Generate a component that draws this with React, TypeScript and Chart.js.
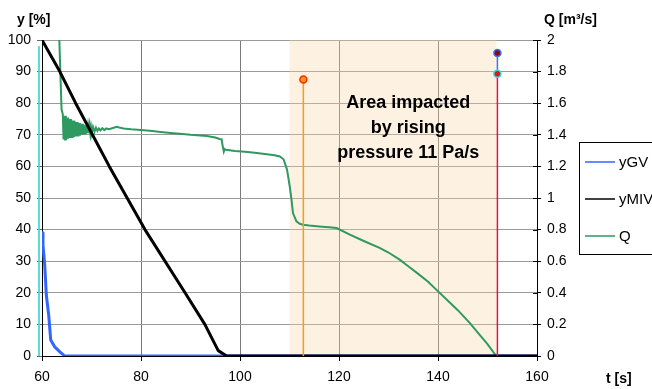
import React, { useEffect, useRef } from 'react';
import { Chart, registerables } from 'chart.js';

Chart.register(...registerables);

const FONT = '"Liberation Sans", Arial, Helvetica, sans-serif';

// ---- data ----
const seriesNames = ['yGV', 'yMIV', 'Q'];
const seriesColors = ['#3366ff', '#000000', '#2e9960'];

const yGvTime = [60, 60.2, 60.55, 60.87, 61.35, 61.76, 62.56, 63.57, 64.58, 160];
const yGvValue = [39, 35.1, 28.8, 19.3, 13, 5.1, 2.9, 1.4, 0, 0];

const yMivTime = [60, 63.6, 66.8, 70.2, 73.6, 80.8, 88.9, 92.9, 95.6, 97.3, 160];
const yMivValue = [100, 90, 80, 70, 60, 40, 20, 10, 1.7, 0, 0];

const qTime = [
  63.45, 63.95, 64.2, 64.35, 64.5, 64.65, 64.8, 64.95, 65.1, 65.25, 65.4, 65.55, 65.7, 65.85, 66.0, 66.15,
  66.3, 66.45, 66.6, 66.75, 66.9, 67.05, 67.2, 67.35, 67.5, 67.65, 67.8, 67.95, 68.1, 68.25, 68.4, 68.55,
  68.7, 68.85, 69.0, 69.15, 69.3, 69.45, 69.6, 69.75, 69.9, 70.05, 70.3, 70.6, 70.9, 71.2, 71.5, 71.8,
  72.2, 72.6, 73.0, 73.5, 74.0, 74.5, 75.1, 75.6, 76.5, 78,
  80, 81.8, 84, 86, 87.85, 90, 92, 93.3, 95.0, 95.9, 96.27, 96.5, 96.73, 96.9, 97.13, 99, 101,
  103, 105, 107, 108.03, 108.8, 109.5, 110.05, 110.4, 110.7, 111.4, 112.07, 112.7, 114, 116, 118,
  119.5, 122.2, 125, 128.2, 130, 132.25, 134, 136, 138, 139.65, 142, 144, 146.4, 148, 150, 151.77,
];
const qValue = [
  2.05, 1.56, 1.53, 1.37, 1.52, 1.37, 1.52, 1.37, 1.51, 1.375, 1.5, 1.38, 1.5, 1.38, 1.49, 1.38,
  1.49, 1.385, 1.485, 1.39, 1.48, 1.39, 1.48, 1.39, 1.475, 1.395, 1.47, 1.4, 1.47, 1.4, 1.465, 1.4,
  1.46, 1.405, 1.46, 1.41, 1.455, 1.41, 1.455, 1.412, 1.45, 1.415,
  1.45, 1.42, 1.445, 1.425, 1.44, 1.428, 1.442, 1.43, 1.44, 1.435, 1.44, 1.445, 1.45, 1.446, 1.44, 1.435,
  1.43, 1.425, 1.418, 1.412, 1.406, 1.4, 1.396, 1.393, 1.383, 1.374, 1.372, 1.33, 1.294, 1.31, 1.305, 1.298, 1.292,
  1.286, 1.279, 1.271, 1.263, 1.245, 1.18, 1.073, 0.989, 0.905, 0.852, 0.837, 0.831, 0.826, 0.82, 0.815,
  0.81, 0.768, 0.728, 0.684, 0.655, 0.61, 0.568, 0.52, 0.47, 0.42, 0.35, 0.29, 0.21, 0.15, 0.075, 0,
];

const cyanTime = [59.4, 59.4];
const cyanValue = [98, 0];
const orangeTime = [112.8, 112.8];
const orangeValue = [87.5, 0];
const blueMarkTime = [152, 152];
const blueMarkValue = [95.9, 89.3];
const redMarkTime = [152, 152];
const redMarkValue = [89.3, 0];

const shadedRange = [110, 151.8];
const annotationLines = ['Area impacted', 'by rising', 'pressure 11 Pa/s'];
const annotationAnchor = { t: 134, y: 80 };

const xRange = [60, 160];
const xStep = 20;
const yRange = [0, 100];
const yStep = 10;
const qRange = [0, 2];
const qStep = 0.2;

const pts = (ts: number[], vs: number[]) => ts.map((t, i) => ({ x: t, y: vs[i] }));

const decorPlugin = {
  id: 'decor',
  beforeDatasetsDraw(chart: any) {
    const { ctx, chartArea: a, scales } = chart;
    const x0 = scales.x.getPixelForValue(shadedRange[0]);
    const x1 = scales.x.getPixelForValue(shadedRange[1]);
    ctx.save();
    ctx.fillStyle = 'rgba(250,213,168,0.33)';
    ctx.fillRect(x0, a.top, x1 - x0, a.bottom - a.top);
    ctx.restore();
  },
  afterDraw(chart: any) {
    const { ctx, chartArea: a, scales } = chart;
    ctx.save();
    // inner tick marks of right axis
    ctx.strokeStyle = '#000';
    ctx.lineWidth = 1;
    scales.q.ticks.forEach((tk: any) => {
      const py = Math.round(scales.q.getPixelForValue(tk.value)) + 0.5;
      ctx.beginPath();
      ctx.moveTo(a.right - 4, py);
      ctx.lineTo(a.right, py);
      ctx.stroke();
    });
    // axis titles
    ctx.fillStyle = '#000';
    ctx.textBaseline = 'middle';
    ctx.textAlign = 'left';
    ctx.font = `bold 14px ${FONT}`;
    ctx.fillText('y [%]', 17, 20);
    ctx.fillText('Q [m³/s]', 544, 20);
    ctx.fillText('t [s]', 606, 379);
    // annotation
    ctx.font = `bold 18px ${FONT}`;
    ctx.textAlign = 'center';
    const ax = scales.x.getPixelForValue(annotationAnchor.t);
    const ay = scales.y.getPixelForValue(annotationAnchor.y);
    annotationLines.forEach((line, i) => ctx.fillText(line, ax, ay + i * 25));
    // legend
    ctx.strokeStyle = '#000';
    ctx.lineWidth = 1;
    ctx.strokeRect(579.5, 142.5, 100, 112);
    ctx.font = `15px ${FONT}`;
    ctx.textAlign = 'left';
    seriesNames.forEach((name, i) => {
      const ly = 162 + i * 37;
      ctx.strokeStyle = seriesColors[i];
      ctx.lineWidth = 1.5;
      ctx.beginPath();
      ctx.moveTo(585, ly);
      ctx.lineTo(615, ly);
      ctx.stroke();
      ctx.fillStyle = '#000';
      ctx.fillText(name, 619, ly + 1);
    });
    ctx.restore();
  },
};

export default function App() {
  const ref = useRef<HTMLCanvasElement>(null);
  useEffect(() => {
    const tickFont = { family: FONT, size: 14 };
    const chart = new Chart(ref.current as HTMLCanvasElement, {
      type: 'line',
      data: {
        datasets: [
          {
            label: 'redMark', data: pts(redMarkTime, redMarkValue), yAxisID: 'y',
            borderColor: '#e8103c', borderWidth: 1.5, pointRadius: [3.5, 0],
            pointBackgroundColor: '#ee1111', pointBorderColor: '#30d8e0', pointBorderWidth: 1.5, order: 0,
          },
          {
            label: 'blueMark', data: pts(blueMarkTime, blueMarkValue), yAxisID: 'y',
            borderColor: '#3f6fff', borderWidth: 1.5, pointRadius: [3.5, 0],
            pointBackgroundColor: '#8b0a0a', pointBorderColor: '#3f6fff', pointBorderWidth: 1.5, order: 0,
          },
          {
            label: 'orange', data: pts(orangeTime, orangeValue), yAxisID: 'y',
            borderColor: '#f89c10', borderWidth: 1.5, pointRadius: [3.5, 0],
            pointBackgroundColor: '#ff9a1a', pointBorderColor: '#ff2a00', pointBorderWidth: 1.5, order: 0,
          },
          {
            label: seriesNames[1], data: pts(yMivTime, yMivValue), yAxisID: 'y',
            borderColor: seriesColors[1], borderWidth: 3, pointRadius: 0, order: 1,
            borderJoinStyle: 'round',
          },
          {
            label: seriesNames[0], data: pts(yGvTime, yGvValue), yAxisID: 'y',
            borderColor: seriesColors[0], borderWidth: 3, pointRadius: 0, order: 2,
            borderJoinStyle: 'round',
          },
          {
            label: seriesNames[2], data: pts(qTime, qValue), yAxisID: 'q',
            borderColor: seriesColors[2], borderWidth: 2, pointRadius: 0, order: 3,
          },
          {
            label: 'cyan', data: pts(cyanTime, cyanValue), yAxisID: 'y',
            borderColor: '#40d8d0', borderWidth: 1, pointRadius: 0, order: 4, clip: false,
          },
        ] as any,
      },
      options: {
        animation: false,
        responsive: false,
        maintainAspectRatio: false,
        devicePixelRatio: 1,
        layout: { padding: { top: 40, left: 0, right: 0, bottom: 0 } },
        plugins: { legend: { display: false }, tooltip: { enabled: false } },
        elements: { line: { tension: 0 } },
        scales: {
          x: {
            type: 'linear', min: xRange[0], max: xRange[1],
            ticks: { stepSize: xStep, color: '#000', font: tickFont, padding: 8, maxRotation: 0 },
            grid: { color: '#7a7a7a', tickColor: '#000', tickLength: 5, lineWidth: 1 },
            border: { color: '#000', width: 1 },
            afterFit: (s: any) => { s.height = 33; },
          },
          y: {
            type: 'linear', position: 'left', min: yRange[0], max: yRange[1],
            ticks: { stepSize: yStep, color: '#000', font: tickFont, padding: 6 },
            grid: { color: '#9a9a9a', tickColor: '#666', tickLength: 5, lineWidth: 1 },
            border: { color: '#000', width: 1 },
            afterFit: (s: any) => { s.width = 42; },
          },
          q: {
            type: 'linear', position: 'right', min: qRange[0], max: qRange[1],
            ticks: {
              stepSize: qStep, color: '#000', font: tickFont, padding: 6,
              callback: (v: any) => String(Number(Number(v).toFixed(1))),
            },
            grid: { drawOnChartArea: false, tickColor: '#000', tickLength: 4 },
            border: { color: '#000', width: 1 },
            afterFit: (s: any) => { s.width = 115; },
          },
        },
      } as any,
      plugins: [decorPlugin],
    });
    return () => chart.destroy();
  }, []);
  return (
    <div style={{ position: 'absolute', left: 0, top: 0, width: 652, height: 389, background: '#fff' }}>
      <canvas ref={ref} width={652} height={389} style={{ display: 'block', width: 652, height: 389 }} />
    </div>
  );
}
